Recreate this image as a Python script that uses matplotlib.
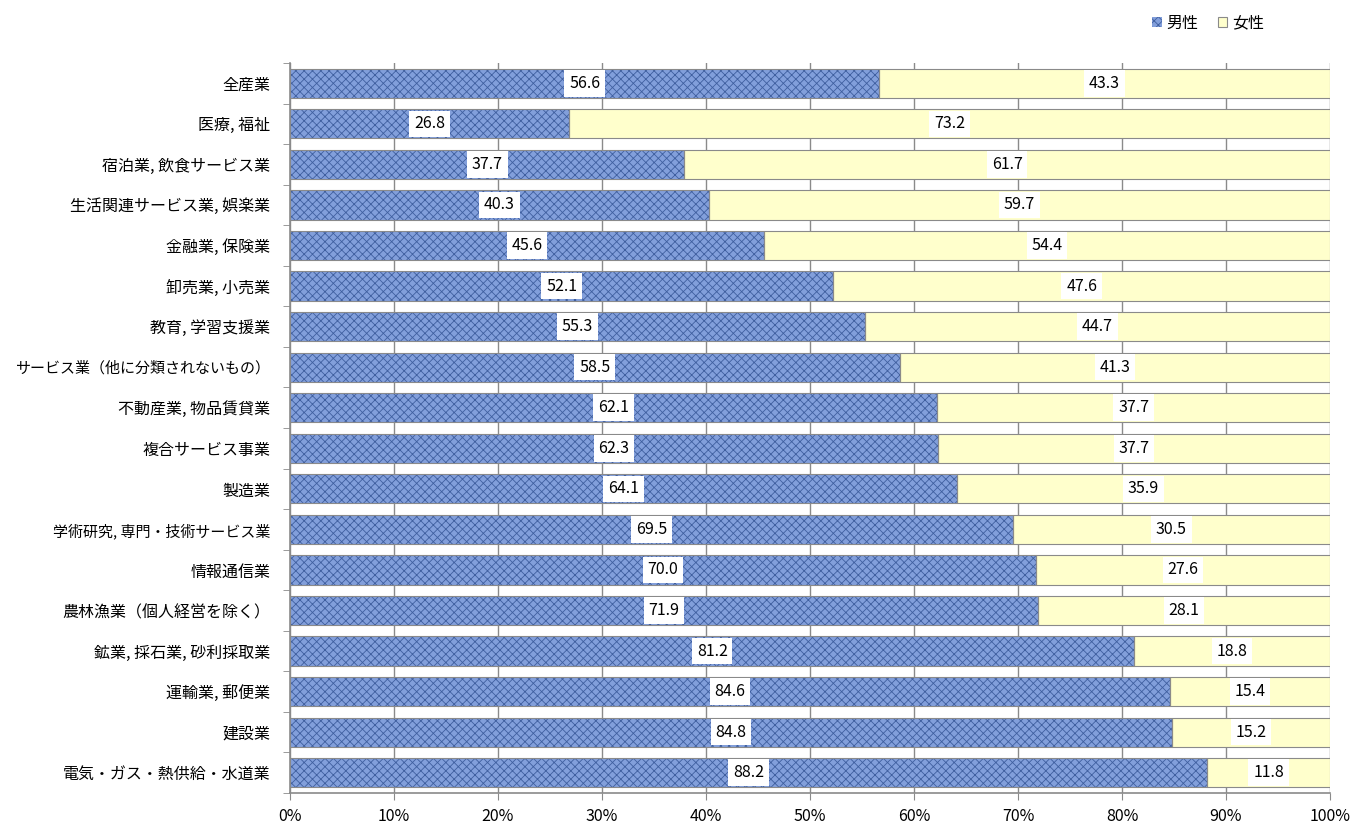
import numpy as np
import matplotlib
matplotlib.use('Agg')
import matplotlib.pyplot as plt
from matplotlib.patches import Patch

plt.rcParams['font.family'] = ['Noto Sans CJK JP', 'DejaVu Sans']
plt.rcParams['hatch.linewidth'] = 0.6

# 産業別 男女比 (%)
categories = ['全産業', '医療, 福祉', '宿泊業, 飲食サービス業', '生活関連サービス業, 娯楽業',
              '金融業, 保険業', '卸売業, 小売業', '教育, 学習支援業',
              'サービス業（他に分類されないもの）', '不動産業, 物品賃貸業', '複合サービス事業',
              '製造業', '学術研究, 専門・技術サービス業', '情報通信業',
              '農林漁業（個人経営を除く）', '鉱業, 採石業, 砂利採取業', '運輸業, 郵便業',
              '建設業', '電気・ガス・熱供給・水道業']
male = [56.6, 26.8, 37.7, 40.3, 45.6, 52.1, 55.3, 58.5, 62.1, 62.3,
        64.1, 69.5, 70.0, 71.9, 81.2, 84.6, 84.8, 88.2]
female = [43.3, 73.2, 61.7, 59.7, 54.4, 47.6, 44.7, 41.3, 37.7, 37.7,
          35.9, 30.5, 27.6, 28.1, 18.8, 15.4, 15.2, 11.8]

m = np.array(male)
f = np.array(female)
tot = m + f
m_pct = m / tot * 100     # 100%積み上げ
f_pct = f / tot * 100
y = np.arange(len(categories))

fig = plt.figure(figsize=(13.52, 8.24), dpi=100)
ax = fig.add_axes([290 / 1352, 1 - 793 / 824, 1040 / 1352, 730 / 824])

blue = '#829fdb'
hatch_col = '#3f5f9f'
yellow = '#ffffcc'
fs = 11.5

ax.barh(y, m_pct, height=0.72, color=blue, edgecolor=hatch_col, hatch='xxxx', linewidth=0, zorder=2)
ax.barh(y, m_pct, height=0.72, fill=False, edgecolor='#8a8a8a', linewidth=0.8, zorder=3)
ax.barh(y, f_pct, left=m_pct, height=0.72, color=yellow, edgecolor='#8a8a8a', linewidth=0.8, zorder=2)

box = dict(boxstyle='square,pad=0.3', fc='white', ec='none')
for i in range(len(categories)):
    ax.text(m_pct[i] / 2, y[i], f'{male[i]:.1f}', ha='center', va='center',
            fontsize=fs, bbox=box, zorder=4)
    ax.text(m_pct[i] + f_pct[i] / 2, y[i], f'{female[i]:.1f}', ha='center', va='center',
            fontsize=fs, bbox=box, zorder=4)

ax.set_xlim(0, 100)
ax.set_ylim(len(categories) - 0.5, -0.5)
ax.set_xticks(np.arange(0, 101, 10))
ax.set_xticklabels([f'{v}%' for v in range(0, 101, 10)], fontsize=fs)
ax.set_yticks(y)
ax.set_yticklabels(categories, fontsize=11.5)
for lab in ax.get_yticklabels():
    if len(lab.get_text()) > 15:   # 長いラベルは少し小さく
        lab.set_fontsize(10.8)
ax.tick_params(axis='y', which='major', length=0, pad=14)
ax.set_yticks(np.arange(-0.5, len(categories), 1), minor=True)
ax.tick_params(axis='y', which='minor', length=5, color='#8a8a8a', direction='out')
ax.tick_params(axis='x', length=5, color='#8a8a8a', pad=6)

ax.grid(axis='x', color='#8a8a8a', linewidth=1, zorder=0)
ax.set_axisbelow(True)
for s in ['top', 'right']:
    ax.spines[s].set_visible(False)
for s in ['left', 'bottom']:
    ax.spines[s].set_color('#8a8a8a')
    ax.spines[s].set_linewidth(1.2)

handles = [Patch(facecolor=blue, edgecolor=hatch_col, hatch='xxxx', linewidth=0, label='男性'),
           Patch(facecolor=yellow, edgecolor='#8a8a8a', linewidth=0.8, label='女性')]
fig.legend(handles=handles, loc='center', bbox_to_anchor=(1208 / 1352, 1 - 23 / 824), ncol=2,
           frameon=False, fontsize=11.5, handlelength=0.6, handleheight=0.6, handletextpad=0.3,
           columnspacing=1.2)

fig.savefig('out.png', dpi=100)
